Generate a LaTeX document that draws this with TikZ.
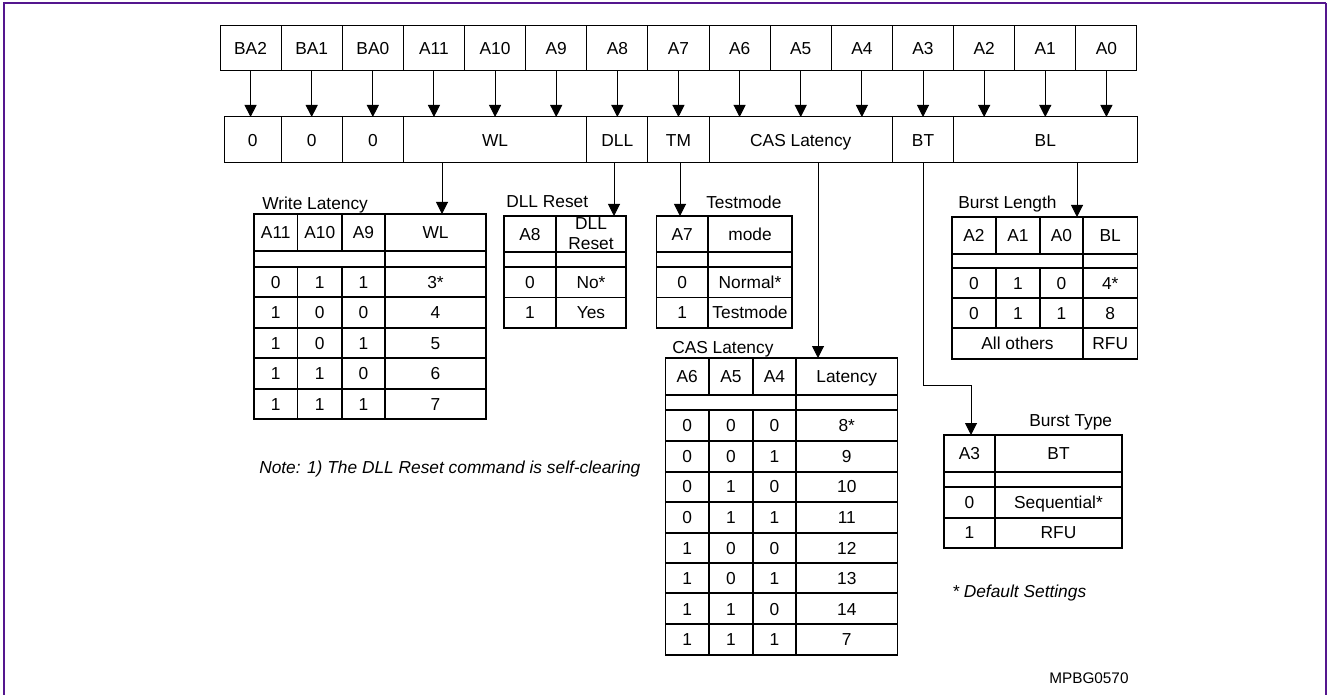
\documentclass[tikz,border=0pt]{standalone}
\usepackage{fontspec}
\setmainfont{Liberation Sans}
\usetikzlibrary{arrows.meta,positioning,calc}

\definecolor{framepurple}{RGB}{84,22,142}

\tikzset{
  bitcell/.style={draw, line width=0.75pt, inner sep=0pt, outer sep=0pt,
    anchor=north west, minimum width=45.85pt, minimum height=33.75pt,
    text height=9.3pt, text depth=0pt},
  fieldcell/.style={bitcell, minimum height=34.5pt},
  tabline/.style={line width=0.8pt},
  txt/.style={inner sep=0pt, text height=9.3pt, text depth=0pt},
  tabtitle/.style={txt, anchor=west},
  feed/.style={->, line width=0.75pt},
}

\begin{document}
\begin{tikzpicture}[x=0.75pt, y=-0.75pt, >={Triangle[width=9pt,length=9pt]},
  font=\fontsize{13pt}{15pt}\selectfont]
\useasboundingbox (0,0) rectangle (1327,695);
% frame
\draw[framepurple, line width=1.5pt] (4,695) -- (4,3) -- (1326,3);
\draw[framepurple, line width=0.9pt] (1326,3) -- (1326,695);

% register bits
\foreach \n [count=\i from 0] in {BA2,BA1,BA0,A11,A10,A9,A8,A7,A6,A5,A4,A3,A2,A1,A0}
  \node[bitcell] (t\i) at (220+61.13*\i,26) {\n};

% fields
\node[fieldcell, minimum width=42.85pt] (zba2) at (224,117) {0};
\node[fieldcell, right=0pt of zba2] (zba1) {0};
\node[fieldcell, right=0pt of zba1] (zba0) {0};
\node[fieldcell, right=0pt of zba0, minimum width=137.55pt] (wl) {WL};
\node[fieldcell, right=0pt of wl] (dll) {DLL};
\node[fieldcell, right=0pt of dll] (tm) {TM};
\node[fieldcell, right=0pt of tm, minimum width=137.55pt] (cas) {CAS Latency};
\node[fieldcell, right=0pt of cas] (bt) {BT};
\node[fieldcell, right=0pt of bt, minimum width=137.55pt] (bl) {BL};

\foreach \i in {0,...,14}
  \draw[feed] (t\i.south) -- (t\i.south |- wl.north);

% Write Latency
\node[tabtitle] (wltitle) at (262,203) {Write Latency};
\draw[tabline] (254,214) rectangle (486,419) (385,214) -- (385,419);
\foreach \y in {251,267,297,328,358,389} \draw[tabline] (254,\y) -- (486,\y);
\foreach \x in {297.5,342} \draw[tabline] (\x,214) -- (\x,251) (\x,267) -- (\x,419);
\foreach \t/\x [count=\c] in {A11/275.75,A10/319.75,A9/363.5,WL/435.5}
  \node[txt] (wlh\c) at (\x,232.5) {\t};
\foreach \a/\b/\c/\v [count=\r] in {0/1/1/3*,1/0/0/4,1/0/1/5,1/1/0/6,1/1/1/7} {
  \node[txt] (wlr\r-1) at (275.75,251.8+30.4*\r) {\a};
  \node[txt] (wlr\r-2) at (319.75,251.8+30.4*\r) {\b};
  \node[txt] (wlr\r-3) at (363.5,251.8+30.4*\r) {\c};
  \node[txt] (wlr\r-4) at (435.5,251.8+30.4*\r) {\v};
}
\coordinate (wlin) at (442,214);
\draw[feed] (wl.south -| wlin) -- (wlin);

% DLL Reset
\node[tabtitle] (dlltitle) at (506,201) {DLL Reset};
\draw[tabline] (504,216) rectangle (626,328) (556,216) -- (556,328);
\foreach \y in {252,267,297.5} \draw[tabline] (504,\y) -- (626,\y);
\node[txt] (dllh1) at (530,234) {A8};
\node[inner sep=0pt, align=center] (dllh2) at (591,234) {DLL\\Reset};
\foreach \a/\v [count=\r] in {0/No*,1/Yes} {
  \node[txt] (dllr\r-1) at (530,251.75+30.5*\r) {\a};
  \node[txt] (dllr\r-2) at (591,251.75+30.5*\r) {\v};
}
\coordinate (dllin) at (614,216);
\draw[feed] (dll.south -| dllin) -- (dllin);

% Testmode
\node[tabtitle] (tmtitle) at (706,202) {Testmode};
\draw[tabline] (656.5,216) rectangle (792,328) (708,216) -- (708,328);
\foreach \y in {252,267,297.5} \draw[tabline] (656.5,\y) -- (792,\y);
\node[txt] (tmh1) at (682.25,234) {A7};
\node[txt] (tmh2) at (750,234) {mode};
\foreach \a/\v [count=\r] in {0/Normal*,1/Testmode} {
  \node[txt] (tmr\r-1) at (682.25,251.75+30.5*\r) {\a};
  \node[txt] (tmr\r-2) at (750,251.75+30.5*\r) {\v};
}
\coordinate (tmin) at (680,216);
\draw[feed] (tm.south -| tmin) -- (tmin);

% CAS Latency
\node[tabtitle] (castitle) at (672,347) {CAS Latency};
\draw[tabline] (665.5,358) rectangle (897.5,655) (796,358) -- (796,655);
\foreach \y in {395,410,441,472,502,533,563,593,624} \draw[tabline] (665.5,\y) -- (897.5,\y);
\foreach \x in {709,753} \draw[tabline] (\x,358) -- (\x,395) (\x,410) -- (\x,655);
\foreach \t/\x [count=\c] in {A6/687.25,A5/731,A4/774.5,Latency/846.75}
  \node[txt] (cash\c) at (\x,376.5) {\t};
\foreach \a/\b/\c/\v [count=\r] in {0/0/0/8*,0/0/1/9,0/1/0/10,0/1/1/11,1/0/0/12,1/0/1/13,1/1/0/14,1/1/1/7} {
  \node[txt] (casr\r-1) at (687.25,394.69+30.625*\r) {\a};
  \node[txt] (casr\r-2) at (731,394.69+30.625*\r) {\b};
  \node[txt] (casr\r-3) at (774.5,394.69+30.625*\r) {\c};
  \node[txt] (casr\r-4) at (846.75,394.69+30.625*\r) {\v};
}
\coordinate (casin) at (818,358);
\draw[feed] (cas.south -| casin) -- (casin);

% Burst Length
\node[tabtitle] (bltitle) at (958,202) {Burst Length};
\draw[tabline] (952,217) rectangle (1137.5,359) (1083,217) -- (1083,359);
\foreach \y in {254,268,298,328} \draw[tabline] (952,\y) -- (1137.5,\y);
\foreach \x in {996,1040} \draw[tabline] (\x,217) -- (\x,254) (\x,268) -- (\x,328);
\foreach \t/\x [count=\c] in {A2/974,A1/1018,A0/1061.5,BL/1110.25}
  \node[txt] (blh\c) at (\x,235.5) {\t};
\foreach \a/\b/\c/\v [count=\r] in {0/1/0/4*,0/1/1/8} {
  \node[txt] (blr\r-1) at (974,253+30*\r) {\a};
  \node[txt] (blr\r-2) at (1018,253+30*\r) {\b};
  \node[txt] (blr\r-3) at (1061.5,253+30*\r) {\c};
  \node[txt] (blr\r-4) at (1110.25,253+30*\r) {\v};
}
\node[txt] (blr3-1) at (1017.5,343.5) {All others};
\node[txt] (blr3-4) at (1110.25,343.5) {RFU};
\coordinate (blin) at (1077,217);
\draw[feed] (bl.south -| blin) -- (blin);

% Burst Type
\node[tabtitle] (bttitle) at (1029,420) {Burst Type};
\draw[tabline] (944,435) rectangle (1122,548) (995,435) -- (995,548);
\foreach \y in {472,487,518} \draw[tabline] (944,\y) -- (1122,\y);
\node[txt] (bth1) at (969.5,453.5) {A3};
\node[txt] (bth2) at (1058.5,453.5) {BT};
\foreach \a/\v [count=\r] in {0/Sequential*,1/RFU} {
  \node[txt] (btr\r-1) at (969.5,471.75+30.5*\r) {\a};
  \node[txt] (btr\r-2) at (1058.5,471.75+30.5*\r) {\v};
}
\coordinate (btin) at (971,435);
\draw[feed] (bt.south) -- ++(0,222) -| (btin);

% notes
\node[tabtitle] (note) at (259,467) {\itshape Note: 1) The DLL Reset command is self-clearing};
\node[tabtitle] (default) at (952,591) {\itshape * Default Settings};
\node[tabtitle, font=\fontsize{11.5pt}{13pt}\selectfont] (figid) at (1049,677) {MPBG0570};
\end{tikzpicture}
\end{document}
